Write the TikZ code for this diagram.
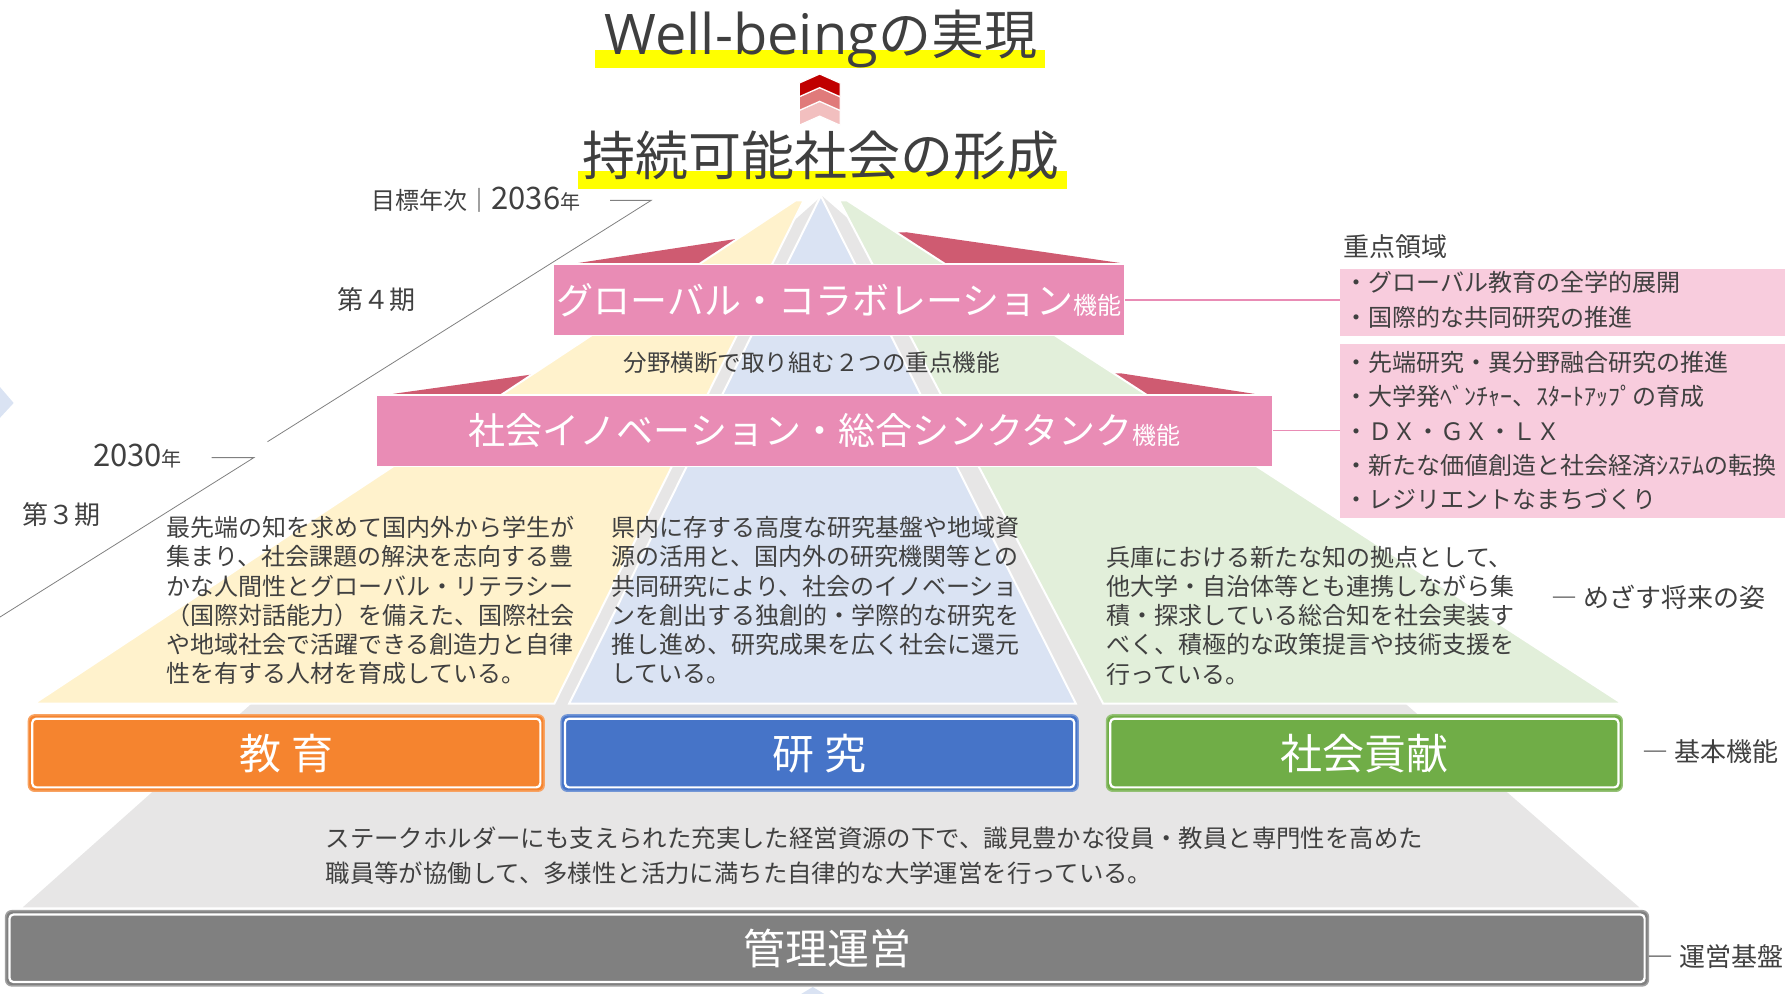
\documentclass[tikz,border=0pt]{standalone}
\usepackage{fontspec}
\setmainfont{Noto Sans CJK JP}
\newfontfamily\latfont{Open Sans}
\usetikzlibrary{fit}
\newcommand\fsz[2]{\fontsize{#1pt}{#2pt}\selectfont}
\definecolor{txt}{HTML}{404040}
\definecolor{ttl}{HTML}{3F3F3F}
\definecolor{secY}{HTML}{FFF2CC}
\definecolor{secB}{HTML}{DAE3F3}
\definecolor{secG}{HTML}{E2EFDA}
\definecolor{secGray}{HTML}{E7E6E6}
\definecolor{band}{HTML}{E98CB5}
\definecolor{wing}{HTML}{CF5B71}
\definecolor{panel}{HTML}{F8CCDD}
\definecolor{orangeF}{HTML}{F5842F}
\definecolor{blueF}{HTML}{4674C8}
\definecolor{greenF}{HTML}{70AD47}
\definecolor{grayF}{HTML}{808080}
\definecolor{chevA}{HTML}{C00000}
\definecolor{chevB}{HTML}{E07A7A}
\definecolor{chevC}{HTML}{F2BFBF}
\definecolor{lineG}{HTML}{808080}
\definecolor{hl}{HTML}{FFFF00}
\tikzset{
  tx/.style={text=txt, inner sep=0},
  sector/.style={draw=white, line width=2pt},
  chev/.style={draw=white, line width=1.2pt},
  bandbox/.style={fill=band, draw=white, line width=1.2pt, inner sep=0},
  bandlab/.style={inner sep=0, text=white, font=\fsz{37}{40}, anchor=base},
  basebox/.style={fill=#1, draw=#1!75!white, line width=1.5pt, rounded corners=6pt, inner sep=0},
  boxlab/.style={inner sep=0, text=white, font=\fsz{42}{46}, anchor=base},
  innerline/.style={draw=white, line width=2.2pt, rounded corners=4pt},
  panelbox/.style={fill=panel, inner sep=0},
  pinkline/.style={draw=band, line width=1.2pt},
  tl/.style={draw=lineG, line width=0.8pt},
  para/.style={tx, anchor=north west, align=left},
  lab/.style={tx, font=\fsz{26}{30}},
}
\begin{document}
\begin{tikzpicture}[x=1.1384pt, y=-1.1384pt]
\useasboundingbox (0,0) rectangle (1568,873);

% titles
\fill[hl] (523,44) rectangle (918,60);
\node[anchor=base, text=ttl, inner sep=0] (t1) at (721,48)
  {\fsz{53}{60}{\latfont\fontsize{56pt}{60pt}\selectfont Well-being}の実現};
\fill[hl] (508,150) rectangle (937,166);
\node[anchor=base, text=ttl, inner sep=0] (t2) at (721,154) {\fsz{53}{60}持続可能社会の形成};

% chevrons
\filldraw[chev, fill=chevC] (702,97) -- (720,89) -- (738,97) -- (738,110) -- (720,102) -- (702,110) -- cycle;
\filldraw[chev, fill=chevB] (702,85) -- (720,77) -- (738,85) -- (738,97) -- (720,89) -- (702,97) -- cycle;
\filldraw[chev, fill=chevA] (702,73) -- (720,65) -- (738,73) -- (738,85) -- (720,77) -- (702,85) -- cycle;

% wings behind
\fill[wing] (508,231) -- (646,210) -- (796,204) -- (984,231) -- cycle;
\fill[wing] (345,346) -- (467,329) -- (985,328) -- (1102,346) -- cycle;

% gray pyramid and sectors
\fill[secGray] (722,172) -- (20,797) -- (1440,797) -- cycle;
\filldraw[sector, fill=secY] (699,176) -- (30,618) -- (487,618) -- (706,176) -- cycle;
\filldraw[sector, fill=secB] (721,172) -- (500,618) -- (945,618) -- cycle;
\filldraw[sector, fill=secG] (737,176) -- (969,618) -- (1425,618) -- (744,176) -- cycle;

% left / bottom decorations
\fill[secB] (0,340) -- (12,354) -- (0,367) -- cycle;
\fill[secB] (714,867) -- (724,873) -- (704,873) -- cycle;

% function bands
\node[bandbox, fit={(486,232) (988,295)}] (b1) {};
\node[bandlab] (b1t) at ([yshift=-14.1pt]b1.center) {グローバル・コラボレーション{\fsz{24}{28}機能}};
\node[bandbox, fit={(331,347) (1118,410)}] (b2) {};
\node[bandlab] (b2t) at ([yshift=-14.1pt]b2.center) {社会イノベーション・総合シンクタンク{\fsz{24}{28}機能}};
\node[tx, anchor=base, font=\fsz{23.5}{28}] (mid) at (713,326) {分野横断で取り組む２つの重点機能};

% right panels
\node[panelbox, fit={(1177,236) (1568,295)}] (p1) {};
\node[panelbox, fit={(1177,302) (1568,455)}] (p2) {};
\draw[pinkline] (b1.east) -- (b1.east -| p1.west);
\draw[pinkline] (b2.east) -- (b2.east -| p2.west);
\node[lab, anchor=base west] (zr) at (1180,225) {重点領域};
\node[para, font=\fsz{24}{34.2}] (p1t) at (1181,238.5)
  {・グローバル教育の全学的展開\\・国際的な共同研究の推進};
\node[para, font=\fsz{24}{34.2}] (p2t) at (1181,308.5)
  {・先端研究・異分野融合研究の推進\\・大学発ﾍﾞﾝﾁｬｰ、ｽﾀｰﾄｱｯﾌﾟの育成\\・ＤＸ・ＧＸ・ＬＸ\\・新たな価値創造と社会経済ｼｽﾃﾑの転換\\・レジリエントなまちづくり};

% timeline
\coordinate (d1a) at (536,176); \coordinate (d1b) at (572,176); \coordinate (d1c) at (235,388);
\coordinate (d2a) at (186,402); \coordinate (d2b) at (223,402); \coordinate (d2c) at (0,542);
\draw[tl] (d1a) -- (d1b) -- (d1c);
\draw[tl] (d2a) -- (d2b) -- (d2c);
\node[tx, anchor=base east] (y36) at (510,184)
  {\fsz{24}{28}目標年次｜\fsz{31}{34}2036\fsz{20}{24}年};
\node[tx, anchor=base east] (y30) at (160,410) {\fsz{31}{34}2030\fsz{20}{24}年};
\node[lab, anchor=base] (k4) at (331,272) {第４期};
\node[lab, anchor=base] (k3) at (54,461) {第３期};

% descriptions
\node[para, font=\fsz{24}{29.2}] (e1) at (146,453.5)
  {最先端の知を求めて国内外から学生が\\集まり、社会課題の解決を志向する豊\\かな人間性とグローバル・リテラシー\\（国際対話能力）を備えた、国際社会\\や地域社会で活躍できる創造力と自律\\性を有する人材を育成している。};
\node[para, font=\fsz{24}{29.2}] (r1) at (537,453.5)
  {県内に存する高度な研究基盤や地域資\\源の活用と、国内外の研究機関等との\\共同研究により、社会のイノベーショ\\ンを創出する独創的・学際的な研究を\\推し進め、研究成果を広く社会に還元\\している。};
\node[para, font=\fsz{24}{29.2}] (s1) at (972,479.5)
  {兵庫における新たな知の拠点として、\\他大学・自治体等とも連携しながら集\\積・探求している総合知を社会実装す\\べく、積極的な政策提言や技術支援を\\行っている。};
\node[lab, anchor=base west] (lv) at (1363,534) {― めざす将来の姿};

% basic functions
\node[basebox=orangeF, fit={(25,628) (478,695)}] (edu) {};
\node[basebox=blueF, fit={(493,628) (947,695)}] (res) {};
\node[basebox=greenF, fit={(972,628) (1425,695)}] (soc) {};
\foreach \b in {edu,res,soc}{
  \draw[innerline] ([shift={(4,4)}]\b.north west) rectangle ([shift={(-4,-4)}]\b.south east);
}
\node[boxlab] (edut) at ([yshift=-16pt]edu.center) {教 育};
\node[boxlab] (rest) at ([yshift=-16pt]res.center) {研 究};
\node[boxlab] (soct) at ([yshift=-16pt]soc.center) {社会貢献};
\node[lab, anchor=base west] (lb) at (1443,669) {― 基本機能};

% management
\node[para, font=\fsz{24.4}{34.2}] (m1) at (286,726.5)
  {ステークホルダーにも支えられた充実した経営資源の下で、識見豊かな役員・教員と専門性を高めた\\職員等が協働して、多様性と活力に満ちた自律的な大学運営を行っている。};
\node[basebox=grayF, fit={(5,800) (1448,866)}] (mgt) {};
\draw[innerline] ([shift={(4,4)}]mgt.north west) rectangle ([shift={(-4,-4)}]mgt.south east);
\node[boxlab] (mgtt) at ([yshift=-16pt]mgt.center) {管理運営};
\node[lab, anchor=base west] (lm) at (1447,849) {― 運営基盤};
\end{tikzpicture}
\end{document}
